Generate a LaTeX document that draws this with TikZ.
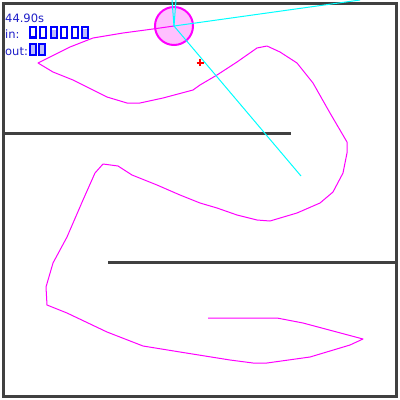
\documentclass[tikz,border=0pt]{standalone}
\usepackage{fontspec}
\setmainfont{DejaVu Sans}
\usepackage{xcolor}
\usepackage{tikz}
\usetikzlibrary{positioning}
\definecolor{wallgray}{RGB}{64,64,64}
\definecolor{txtblue}{RGB}{30,30,200}
\definecolor{barblue}{RGB}{0,0,255}
\definecolor{barfill}{RGB}{190,190,250}
\definecolor{trailpink}{RGB}{255,0,255}
\definecolor{raycyan}{RGB}{0,255,255}
\definecolor{goalred}{RGB}{255,0,0}
\definecolor{robotfill}{RGB}{255,192,255}

\begin{document}
\begin{tikzpicture}[x=1pt, y=-1pt,
    % styles for the arena and the robot
    wall/.style = {wallgray, line width=3pt},
    trail/.style = {trailpink, line width=1pt, line join=round},
    sensor/.style = {raycyan, line width=1pt},
    robot/.style = {circle, draw=trailpink, fill=robotfill, line width=2pt, minimum size=38pt, inner sep=0pt},
    target/.style = {goalred, line width=2pt},
    info/.style = {anchor=base west, inner sep=0pt, text=txtblue, font=\fontsize{11.5}{13}\selectfont},
    bar/.style = {draw=barblue, line width=2pt}
]
    \useasboundingbox (0,0) rectangle (400,400);
    \fill[white] (0,0) rectangle (400,400);

    % 1. Arena border and inner walls
    \draw[wall] (3,3) rectangle (396,396);
    \draw[wall] (3,133.5) -- (291,133.5);
    \draw[wall] (108,262.5) -- (397,262.5);

    % 2. Robot body
    \node (bot) [robot] at (174,26) {};

    % 3. Path the robot has driven
    \draw[trail] (208,318) -- (277,318) -- (303,323) -- (363,339) -- (350,345)
        -- (310,357) -- (267,363) -- (253,363) -- (230,360) -- (180,352)
        -- (143,346) -- (107,332) -- (67,313) -- (47,305) -- (46,287)
        -- (53,263) -- (67,237) -- (83,200) -- (95,173) -- (103,164)
        -- (118,166) -- (132,175) -- (157,185) -- (180,195) -- (200,203)
        -- (217,208) -- (237,215) -- (257,220) -- (270,221) -- (297,213)
        -- (320,203) -- (333,192) -- (343,173) -- (347,153) -- (347,142)
        -- (330,113) -- (313,83) -- (297,63) -- (280,52) -- (267,46)
        -- (257,48) -- (237,62) -- (217,75) -- (200,85) -- (193,90)
        -- (163,98) -- (140,103) -- (127,103) -- (107,97) -- (73,80)
        -- (53,72) -- (38,63) -- (50,57) -- (70,47) -- (93,38)
        -- (123,33) -- (153,29) -- (bot.center);

    % 4. Sensor rays
    \coordinate (rayA) at (301,176);
    \coordinate (rayB) at (360,0);
    \coordinate (rayC) at (172,0);
    \coordinate (rayD) at (176,0);
    \foreach \ray in {rayA, rayB, rayC, rayD}
        \draw[sensor] (bot.center) -- (\ray);

    % 5. Goal marker
    \coordinate (goal) at (200,62.5);
    \draw[target] ([xshift=-3.5pt]goal) -- ([xshift=3.5pt]goal);
    \draw[target] ([yshift=-3.5pt]goal) -- ([yshift=3.5pt]goal);

    % 6. Status text and activation bars
    \node (time) [info] at (5,22) {44.90s};
    \node (inlbl) [info] at (5,38.5) {in:};
    \node (outlbl) [info] at (5,55.5) {out:};
    \foreach \i/\lvl in {0/0.15, 1/0, 2/0.7, 3/0, 4/0, 5/0.8} {
        \pgfmathsetmacro{\bx}{30+10.4*\i}
        \ifdim\lvl pt>0.2pt
            \fill[barfill] (\bx,38) rectangle (\bx+6,38-11*\lvl);
        \else\ifdim\lvl pt>0pt
            \fill[barblue] (\bx,38) rectangle (\bx+6,38-11*\lvl);
        \fi\fi
        \draw[bar] (\bx,27) rectangle (\bx+6,38);
    }
    \foreach \i in {0,1} {
        \pgfmathsetmacro{\bx}{30+9.2*\i}
        \draw[bar, fill=barfill] (\bx,44) rectangle (\bx+6,54.5);
    }
\end{tikzpicture}
\end{document}
